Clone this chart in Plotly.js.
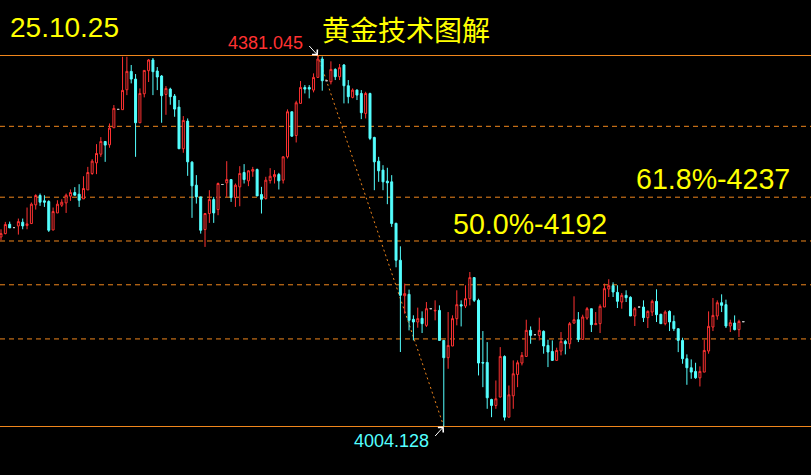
<!DOCTYPE html>
<html>
<head>
<meta charset="utf-8">
<script src="https://cdn.plot.ly/plotly-3.0.1.min.js"></script>
<style>html,body{margin:0;padding:0;background:#000;}#chart{width:811px;height:475px;}</style>
</head>
<body>
<div id="chart"></div>
<script>
// OHLC series (null = doji bar, drawn separately in grey)
const openP = [4196.7,4200.1,4209.6,null,4207.9,4211.7,4208.3,4210.3,4229.3,4238.8,
4233.4,4232.7,4203.8,4221.1,4229.0,4231.3,4238.1,4241.8,4240.1,4235.4,
4244.5,4261.2,4272.0,4280.8,4293.7,4290.3,4307.6,null,4326.0,4346.3,
4364.9,4357.1,4312.7,4342.2,4365.6,4376.5,4365.3,4360.2,4341.5,4346.9,
4339.8,4328.6,4286.3,4314.4,4272.7,4249.3,4237.4,4204.2,4220.5,4234.7,
4224.5,null,4251.7,4255.0,4236.7,4247.6,4262.2,4253.7,4263.5,4265.2,
4239.8,4235.7,4254.0,4257.8,4260.1,4254.4,4278.1,4323.9,4299.8,4332.4,
4348.6,4348.6,4345.9,4358.8,4377.5,null,4354.4,4366.9,4359.5,4371.4,
4350.3,4338.5,4345.9,4342.5,4322.2,4342.5,4297.8,4273.7,4264.6,4253.4,
4252.7,4210.6,4173.0,4137.0,4138.4,4113.0,4110.3,4114.0,4106.9,null,
4121.5,4122.1,4091.6,4074.0,4085.9,4113.7,4127.9,4126.5,4134.0,4155.4,
4132.3,4069.2,4069.2,4031.6,4025.5,4034.0,4075.3,4013.6,4035.3,4057.0,
4068.6,4075.3,4101.8,null,4096.7,4100.8,4086.5,4080.4,4071.3,4080.8,
4090.6,4088.2,4109.2,4112.6,4092.6,4114.3,4123.8,4107.6,4108.6,4125.5,
4143.8,4147.2,4140.4,4130.6,4137.4,4135.4,4116.4,null,4125.5,4114.7,
4120.4,4131.3,4118.1,4108.6,4121.1,4110.9,4103.5,4091.6,4073.0,4063.8,
4060.1,4053.6,4059.4,4080.8,4105.2,4116.4,4129.9,4127.9,4106.2,4109.2,
4102.5,null];
const highP = [4204.5,4212.0,4212.3,null,4215.4,4215.4,4226.6,4231.7,4240.1,4240.8,
4239.1,4234.0,4226.6,4234.0,4235.0,4240.8,4244.9,4247.3,4250.3,4258.4,
4267.9,4275.7,4291.0,4298.1,4293.7,4312.0,4330.7,null,4379.8,4379.8,
4371.4,4362.2,4347.6,4365.9,4377.5,4378.5,4369.3,4361.2,4350.0,4348.3,
4341.9,4335.8,4319.5,4317.1,4273.7,4259.5,4237.4,4220.5,4244.2,4237.4,
4252.0,null,4273.7,4255.0,4251.0,4268.6,4270.7,4264.6,4267.9,4266.2,
4247.6,4257.8,4266.6,4264.6,4261.8,4278.8,4326.3,4323.9,4335.1,4355.1,
4351.0,4351.0,4362.9,4381.045,4380.0,null,4375.1,4368.0,4372.4,4372.4,
4356.1,4347.6,4346.6,4345.9,4344.2,4343.2,4298.5,4278.1,4269.6,4267.0,
4259.5,4211.0,4187.2,4149.3,4143.2,4117.1,4124.9,4121.1,4130.6,null,
4132.3,4127.2,4091.6,4120.4,4117.1,4142.5,4132.3,4147.6,4161.1,4156.0,
4134.0,4101.1,4089.9,4032.3,4050.9,4084.8,4076.4,4045.8,4071.3,4071.3,
4079.8,4112.6,4105.8,null,4114.7,4101.8,4092.3,4091.6,4084.2,4100.1,
4092.3,4110.3,4136.4,4120.4,4117.7,4125.5,4123.8,4120.4,4128.2,4149.3,
4153.7,4150.6,4147.6,4139.8,4142.5,4136.4,4125.5,null,4132.3,4122.1,
4133.0,4143.5,4118.7,4122.1,4122.1,4117.0,4103.5,4094.3,4077.4,4072.3,
4068.9,4065.2,4092.3,4121.1,4134.7,4132.3,4138.4,4133.0,4112.6,4117.0,
4112.6,null];
const lowP = [4193.3,4199.4,4205.9,null,4199.1,4204.5,4204.5,4210.3,4224.5,4228.3,
4227.2,4201.8,4203.5,4221.1,4227.2,4221.1,4233.4,4239.1,4227.2,4235.4,
4244.5,4259.8,4260.5,4278.1,4273.0,4287.3,4307.6,null,4326.0,4340.8,
4352.7,4278.1,4312.7,4338.5,4354.1,4340.8,4345.9,4312.7,4320.8,4331.0,
4318.8,4286.3,4282.2,4258.8,4216.1,4230.6,4200.1,4186.6,4211.0,4211.0,
4218.8,null,4237.4,4232.3,4227.2,4227.9,4251.0,4248.3,4257.8,4238.4,
4220.5,4234.7,4251.0,4251.0,4244.9,4251.0,4276.4,4298.5,4292.7,4332.4,
4342.5,4337.5,4343.6,4358.8,4345.3,null,4351.7,4356.1,4356.1,4332.4,
4332.4,4337.5,4335.8,4316.4,4317.1,4295.1,4244.2,4252.7,4244.2,4230.0,
4206.9,4165.9,4079.8,4118.7,4101.8,4091.6,4104.5,4099.1,4105.2,null,
4112.0,4091.6,4004.128,4062.8,4085.9,4106.9,4105.8,4124.5,4127.2,4130.6,
4056.0,4044.1,4022.1,4013.6,4022.1,4034.0,4010.2,4013.6,4022.1,4044.1,
4066.2,4075.3,4088.2,null,4091.6,4078.1,4064.5,4071.3,4071.3,4076.4,
4077.4,4083.1,4108.6,4089.9,4092.6,4112.6,4100.1,4107.6,4099.1,4125.5,
4135.7,4135.7,4124.5,4123.8,4130.6,4116.4,4106.2,null,4110.3,4104.2,
4116.4,4110.3,4108.6,4106.9,4101.1,4101.1,4079.7,4067.9,4046.5,4052.6,
4052.6,4044.8,4059.4,4078.1,4101.1,4112.6,4120.4,4104.2,4100.1,4101.8,
4095.0,null];
const closeP = [4200.1,4209.3,4205.9,null,4212.3,4207.9,4210.0,4230.0,4238.8,4232.0,
4232.0,4203.5,4222.5,4230.0,4232.0,4239.1,4241.8,4239.1,4234.0,4245.9,
4262.2,4273.7,4281.5,4293.7,4290.0,4307.3,4327.3,null,4345.6,4364.9,
4357.1,4312.7,4342.5,4365.9,4376.5,4364.6,4359.2,4340.2,4347.6,4339.2,
4326.6,4286.3,4315.1,4273.0,4248.6,4237.4,4203.5,4220.5,4234.7,4221.1,
4251.0,null,4255.0,4236.7,4249.3,4261.2,4255.0,4263.9,4265.2,4238.4,
4235.0,4254.4,4258.4,4260.1,4253.7,4278.1,4323.9,4299.1,4333.0,4348.6,
4346.9,4346.9,4358.8,4377.5,4355.4,null,4366.9,4359.5,4368.7,4350.3,
4339.2,4345.9,4340.8,4322.9,4342.5,4296.8,4273.0,4263.9,4252.7,4251.7,
4210.3,4173.0,4137.4,4139.1,4112.0,4110.3,4113.7,4108.6,4123.8,null,
4122.1,4091.6,4074.0,4086.5,4113.7,4127.9,4126.5,4134.0,4155.4,4132.3,
4068.6,4068.6,4033.3,4025.5,4032.3,4075.3,4013.6,4036.3,4057.7,4068.9,
4076.4,4101.8,4096.7,null,4101.8,4085.9,4079.8,4071.3,4081.4,4090.6,
4088.2,4108.6,4112.6,4092.6,4115.4,4123.8,4107.6,4108.6,4126.2,4144.2,
4147.2,4140.8,4131.3,4137.4,4135.0,4116.4,4123.8,null,4114.7,4121.1,
4131.3,4117.7,4108.6,4120.4,4110.3,4103.5,4091.6,4073.0,4063.8,4059.4,
4053.6,4060.1,4081.4,4105.9,4117.0,4129.9,4127.2,4106.2,4109.6,4102.5,
4110.9,null];

// Doji bars (open = close)
const dojiIdx = [3, 27, 51, 75, 99, 123, 147, 171];
const dojiPrice = [4206.2, 4326.3, 4250.0, 4355.4, 4123.8, 4097.4, 4125.5, 4110.6];

// Key levels
const highPoint = {idx: 73, price: 4381.045};
const lowPoint = {idx: 102, price: 4004.128};
const fibLevels = [4093.1, 4148.1, 4192.6, 4237.1, 4309.1];
const labels = {date: '25.10.25', title: '黄金技术图解', fib618: '61.8%-4237', fib50: '50.0%-4192'};

const xs = [], o = [], h = [], l = [], c = [];
openP.forEach((v, i) => {
  if (v !== null) { xs.push(i); o.push(v); h.push(highP[i]); l.push(lowP[i]); c.push(closeP[i]); }
});

const RED = '#ff3232', CYAN = '#54ffff', ORANGE = '#f0861c';

const traces = [
  {
    type: 'candlestick', x: xs, open: o, high: h, low: l, close: c,
    increasing: {line: {color: RED, width: 1}, fillcolor: '#000000'},
    decreasing: {line: {color: CYAN, width: 1}, fillcolor: CYAN},
    whiskerwidth: 0, hoverinfo: 'skip', showlegend: false
  },
  {
    type: 'candlestick', x: dojiIdx, open: dojiPrice, high: dojiPrice, low: dojiPrice, close: dojiPrice,
    increasing: {line: {color: '#c0c0c0', width: 1}, fillcolor: '#c0c0c0'},
    decreasing: {line: {color: '#c0c0c0', width: 1}, fillcolor: '#c0c0c0'},
    whiskerwidth: 0, hoverinfo: 'skip', showlegend: false
  }
];

const shapes = [
  {type: 'line', xref: 'paper', x0: 0, x1: 1, yref: 'y', y0: highPoint.price, y1: highPoint.price,
   line: {color: ORANGE, width: 1}, layer: 'below'},
  {type: 'line', xref: 'paper', x0: 0, x1: 1, yref: 'y', y0: lowPoint.price, y1: lowPoint.price,
   line: {color: ORANGE, width: 1}, layer: 'below'},
  {type: 'line', xref: 'x', yref: 'y', x0: highPoint.idx, y0: highPoint.price, x1: lowPoint.idx, y1: lowPoint.price,
   line: {color: ORANGE, width: 1, dash: '2px,3px'}, layer: 'below'}
];
fibLevels.forEach(v => shapes.push({type: 'line', xref: 'paper', x0: 0, x1: 1, yref: 'y', y0: v, y1: v,
  line: {color: ORANGE, width: 1, dash: '5px,4px'}, layer: 'below'}));

const W = 811, H = 475;
const px = v => v / W, py = v => 1 - v / H;
const bigFont = {family: 'Liberation Sans, Arial, sans-serif', size: 28, color: '#ffff00'};

const annotations = [
  {xref: 'paper', yref: 'paper', x: px(8), y: py(27), xanchor: 'left', yanchor: 'middle',
   text: labels.date, showarrow: false, font: bigFont},
  {xref: 'paper', yref: 'paper', x: px(406), y: py(29), xanchor: 'center', yanchor: 'middle',
   text: labels.title, showarrow: false, font: {family: 'Noto Sans CJK SC, sans-serif', size: 28, color: '#ffff00'}},
  {xref: 'paper', yref: 'paper', x: px(634), y: py(179), xanchor: 'left', yanchor: 'middle',
   text: labels.fib618, showarrow: false, font: {family: 'Liberation Sans, Arial, sans-serif', size: 28.6, color: '#ffff00'}},
  {xref: 'paper', yref: 'paper', x: px(451), y: py(223.5), xanchor: 'left', yanchor: 'middle',
   text: labels.fib50, showarrow: false, font: {family: 'Liberation Sans, Arial, sans-serif', size: 28.6, color: '#ffff00'}},
  {xref: 'paper', yref: 'paper', x: px(265), y: py(43), xanchor: 'center', yanchor: 'middle',
   text: highPoint.price.toFixed(3), showarrow: false,
   font: {family: 'Liberation Sans, Arial, sans-serif', size: 18, color: RED}},
  {xref: 'paper', yref: 'paper', x: px(391), y: py(440.5), xanchor: 'center', yanchor: 'middle',
   text: lowPoint.price.toFixed(3), showarrow: false,
   font: {family: 'Liberation Sans, Arial, sans-serif', size: 18, color: CYAN}},
  {xref: 'x', yref: 'y', x: highPoint.idx, y: highPoint.price, ax: -10, ay: -11, text: '',
   showarrow: true, arrowcolor: '#ffffff', arrowwidth: 1, arrowhead: 4, arrowsize: 1.4},
  {xref: 'x', yref: 'y', x: lowPoint.idx, y: lowPoint.price, ax: -10, ay: 11, text: '',
   showarrow: true, arrowcolor: '#ffffff', arrowwidth: 1, arrowhead: 4, arrowsize: 1.4}
];

const layout = {
  width: W, height: H,
  paper_bgcolor: '#000000', plot_bgcolor: '#000000',
  margin: {l: 0, r: 0, t: 0, b: 0, pad: 0},
  showlegend: false,
  boxgap: 0.35,
  xaxis: {range: [-0.23, 186.59], visible: false, showgrid: false, zeroline: false,
          rangeslider: {visible: false}, fixedrange: true},
  yaxis: {range: [3954.86, 4437.43], visible: false, showgrid: false, zeroline: false, fixedrange: true},
  shapes: shapes,
  annotations: annotations
};

Plotly.newPlot('chart', traces, layout, {displayModeBar: false, staticPlot: true});
</script>
</body>
</html>
